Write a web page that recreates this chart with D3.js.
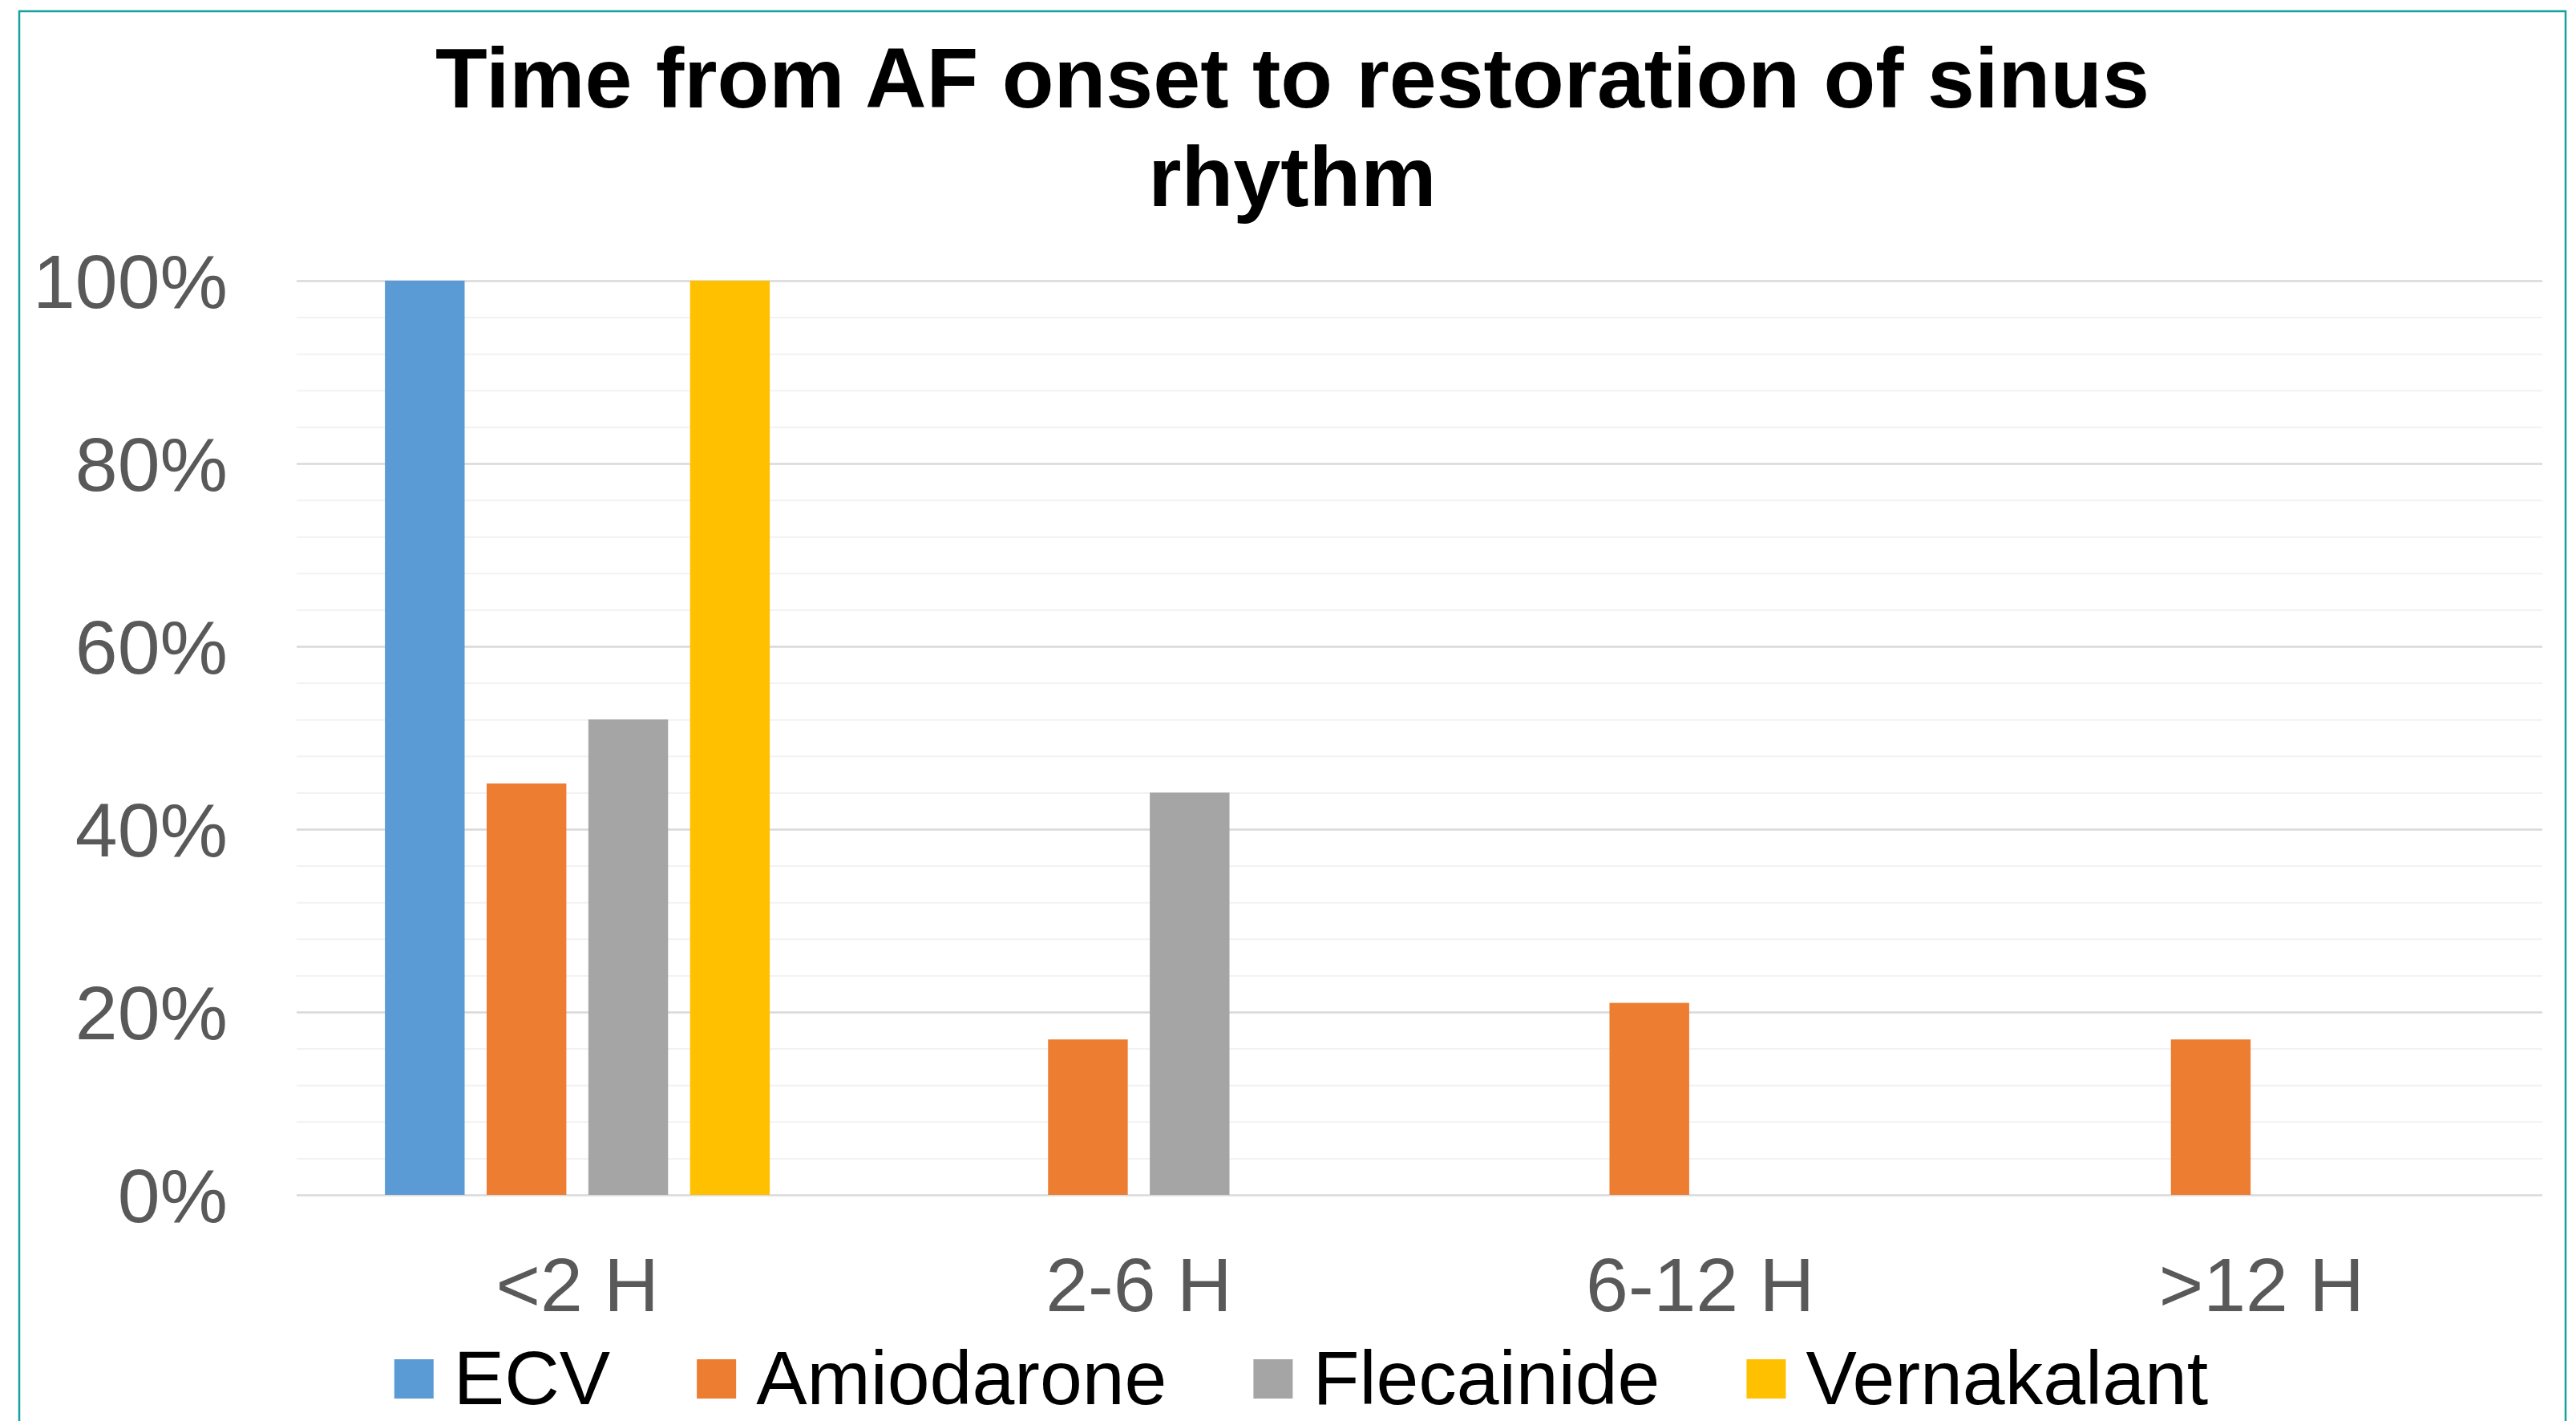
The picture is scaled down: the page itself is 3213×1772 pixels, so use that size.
<!DOCTYPE html>
<html><head><meta charset="utf-8">
<script src="https://cdn.jsdelivr.net/npm/d3@7"></script>
<style>html,body{margin:0;padding:0;background:#fff;} svg{display:block;}</style>
</head><body>
<svg id="chart" width="3213" height="1772"></svg>
<script>
// ---- data ----
const categories = ["<2 H", "2-6 H", "6-12 H", ">12 H"];
const seriesNames = ["ECV", "Amiodarone", "Flecainide", "Vernakalant"];
const ecvValues = [1.00, 0, 0, 0];
const amiodaroneValues = [0.45, 0.17, 0.21, 0.17];
const flecainideValues = [0.52, 0.44, 0, 0];
const vernakalantValues = [1.00, 0, 0, 0];
const yTickValues = [0, 0.2, 0.4, 0.6, 0.8, 1.0];
const yMinorStep = 0.04;
const titleLines = ["Time from AF onset to restoration of sinus", "rhythm"];
const seriesColors = ["#5B9BD5", "#ED7D31", "#A5A5A5", "#FFC000"];

const seriesValues = [ecvValues, amiodaroneValues, flecainideValues, vernakalantValues];

// ---- layout ----
const W = 3213, H = 1772;
const plot = {left: 370, right: 3171, top: 350, bottom: 1490};
const FONT = "'Liberation Sans', Arial, Helvetica, sans-serif";

const svg = d3.select("#chart");
svg.append("rect").attr("width", W).attr("height", H).attr("fill", "#fff");

// chart border (bottom edge lies outside the picture)
svg.append("path")
  .attr("d", `M24,${H + 5} L24,14 L3200,14 L3200,${H + 5}`)
  .attr("fill", "none").attr("stroke", "#17A09D").attr("stroke-width", 2.5);

const x0 = d3.scaleBand().domain(categories).range([plot.left, plot.right]).paddingInner(0).paddingOuter(0);
const x1 = d3.scaleBand().domain(seriesNames).range([0, x0.bandwidth()]).paddingInner(0.2165).paddingOuter(0.868);
const y = d3.scaleLinear().domain([0, 1]).range([plot.bottom, plot.top]);

// minor gridlines
const minorTicks = d3.range(0, 1 + 1e-9, yMinorStep).filter(v => !yTickValues.some(t => Math.abs(t - v) < 1e-6));
const gMinor = svg.append("g").attr("transform", `translate(${plot.left},0)`)
  .call(d3.axisLeft(y).tickValues(minorTicks).tickSize(-(plot.right - plot.left)).tickFormat(""));
gMinor.select(".domain").remove();
gMinor.selectAll("line").attr("stroke", "#F2F2F2").attr("stroke-width", 2);

// major gridlines
const gMajor = svg.append("g").attr("transform", `translate(${plot.left},0)`)
  .call(d3.axisLeft(y).tickValues(yTickValues).tickSize(-(plot.right - plot.left)).tickFormat(""));
gMajor.select(".domain").remove();
gMajor.selectAll("line").attr("stroke", "#D9D9D9").attr("stroke-width", 2.5);

// y tick labels
const gY = svg.append("g").attr("transform", `translate(${plot.left},0)`)
  .call(d3.axisLeft(y).tickValues(yTickValues).tickSize(0).tickPadding(86).tickFormat(d3.format(".0%")));
gY.select(".domain").remove();
gY.selectAll("text").attr("font-family", FONT).attr("font-size", 95).attr("fill", "#595959").attr("dy", "0.35em");

// bars
const table = categories.map((c, i) => ({cat: c, vals: seriesNames.map((s, j) => ({series: s, idx: j, value: seriesValues[j][i]}))}));
const groups = svg.append("g").selectAll("g").data(table).join("g")
  .attr("transform", d => `translate(${x0(d.cat)},0)`);
groups.selectAll("rect").data(d => d.vals.filter(v => v.value > 0)).join("rect")
  .attr("x", d => x1(d.series))
  .attr("width", x1.bandwidth())
  .attr("y", d => y(d.value))
  .attr("height", d => y(0) - y(d.value))
  .attr("fill", d => seriesColors[d.idx]);

// x labels
const gX = svg.append("g").attr("transform", `translate(0,${plot.bottom})`)
  .call(d3.axisBottom(x0).tickSize(0));
gX.select(".domain").remove();
gX.selectAll("text").attr("font-family", FONT).attr("font-size", 95).attr("fill", "#595959")
  .attr("y", 145).attr("dy", 0);

// title
svg.append("g").selectAll("text").data(titleLines).join("text")
  .attr("x", 1612).attr("y", (d, i) => 134 + i * 123)
  .attr("text-anchor", "middle")
  .attr("font-family", FONT).attr("font-weight", "bold").attr("font-size", 106).attr("fill", "#000")
  .text(d => d);

// legend
const legend = svg.append("g");
const sw = 49, swGap = 25, itemGap = 108;
const legendBaseline = 1751;
const items = legend.selectAll("g").data(seriesNames).join("g");
items.append("rect").attr("width", sw).attr("height", sw).attr("y", legendBaseline - 56)
  .attr("fill", (d, i) => seriesColors[i]);
items.append("text").attr("x", sw + swGap).attr("y", legendBaseline)
  .attr("font-family", FONT).attr("font-size", 95).attr("fill", "#000").text(d => d);
let offs = [], cur = 0;
items.each(function() {
  offs.push(cur);
  const tw = d3.select(this).select("text").node().getComputedTextLength();
  cur += sw + swGap + tw + itemGap;
});
const total = cur - itemGap;
const startX = 1623 - total / 2;
items.attr("transform", (d, i) => `translate(${startX + offs[i]},0)`);
</script>
</body></html>
